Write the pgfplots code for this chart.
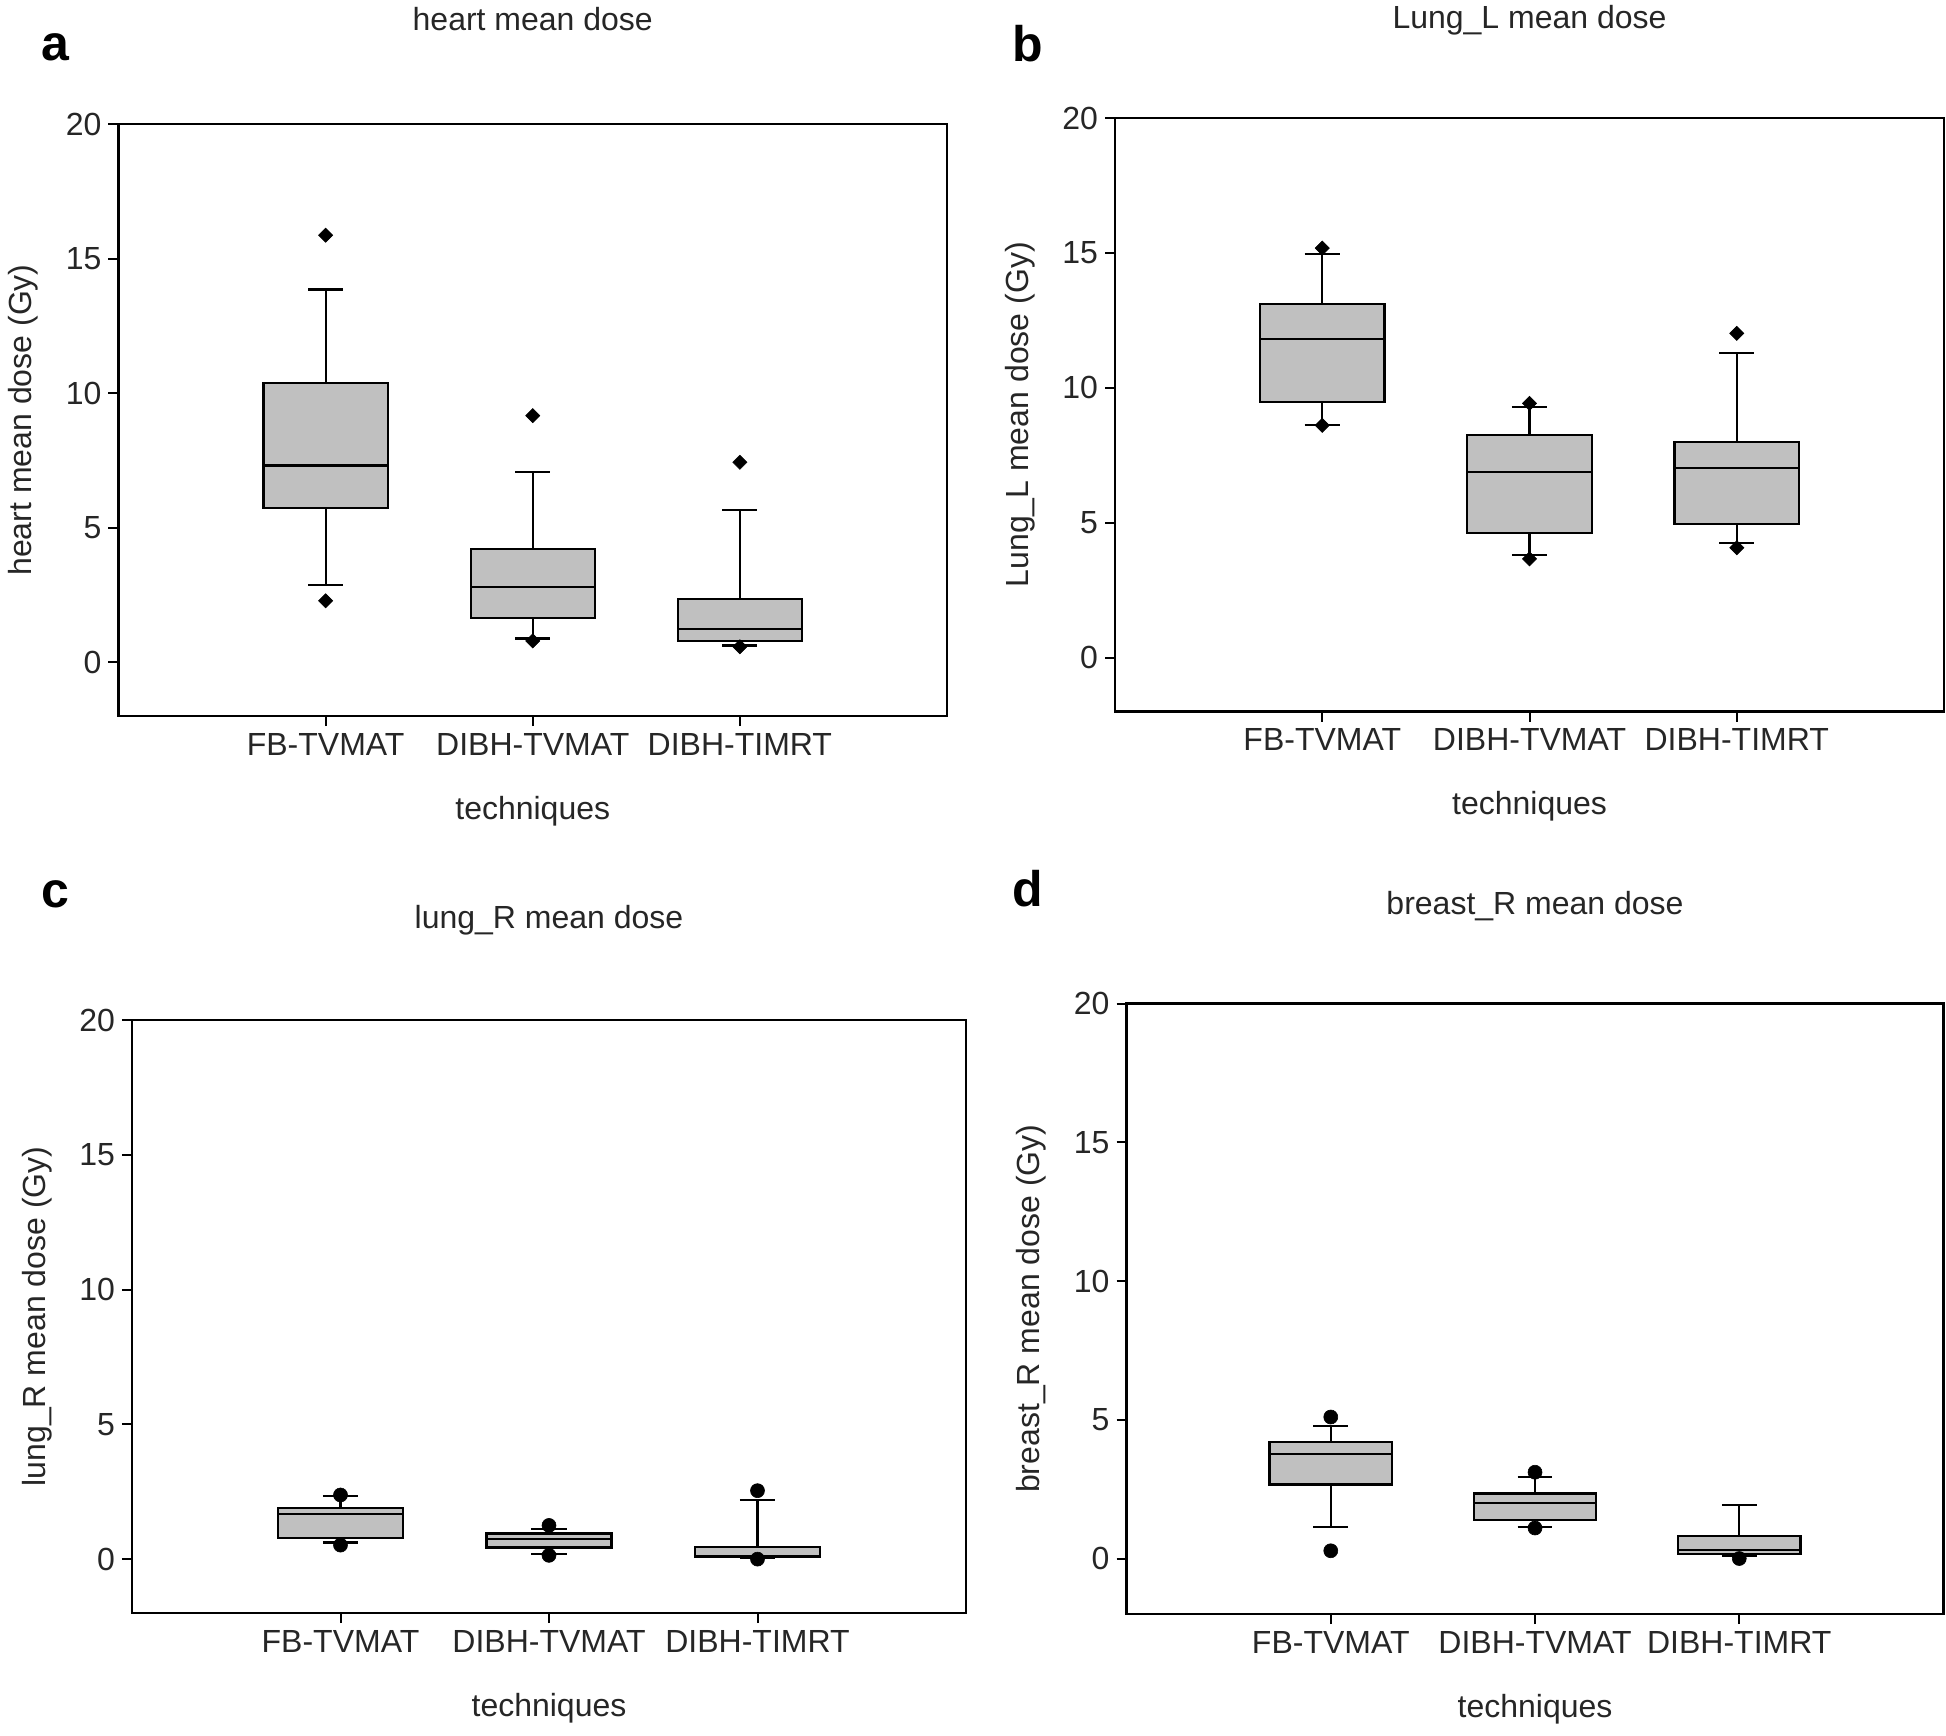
\documentclass[border=0pt]{standalone}
\usepackage{fontspec}
\setmainfont{Liberation Sans}
\usepackage{pgfplots}
\pgfplotsset{compat=1.18}
\usepgfplotslibrary{statistics}
\definecolor{boxgray}{HTML}{C0C0C0}
\definecolor{txt}{HTML}{262626}
\pgfplotsset{
  panel/.style={
    scale only axis,
    xmin=0, xmax=4, ymin=-2, ymax=20,
    xtick={1,2,3}, xticklabels={FB-TVMAT,DIBH-TVMAT,DIBH-TIMRT},
    ytick={0,5,10,15,20},
    tick pos=left,
    tick align=outside,
    major tick length=5pt,
    every tick/.style={black, line width=1pt},
    axis line style={line width=1.1pt},
    tick label style={font=\fontsize{16}{19}\selectfont, text=txt},
    /pgf/number format/assume math mode=true,
    every axis x label/.style={at={(axis description cs:0.5,0)}, anchor=base, yshift=-51.5pt, font=\fontsize{16}{19}\selectfont, text=txt},
    every axis y label/.style={at={(axis description cs:0,0.5)}, xshift=-47.5pt, rotate=90, anchor=center, font=\fontsize{16}{19}\selectfont, text=txt},
    every axis title/.style={at={(axis description cs:0.5,1)}, anchor=base, yshift=46pt, font=\fontsize{16}{19}\selectfont, text=txt},
    xlabel=techniques,
    boxplot/draw direction=y,
    boxplot/box extend=0.6,
    boxplot/whisker extend=0.17,
    boxplot/every box/.style={draw=black, fill=boxgray, line width=1.1pt},
    boxplot/every median/.style={draw=black, line width=1.1pt},
    boxplot/every whisker/.style={draw=black, line width=1.1pt},
    clip=false,
  },
  bx/.style={boxplot prepared={#1}, draw=black, line width=1.1pt, fill=boxgray, solid},
  dia/.style={mark=square*, mark size=2.5pt, mark options={rotate=45, fill=black, draw=black, line width=0.3pt}},
  dot/.style={mark=*, mark size=3.5pt, mark options={fill=black, draw=black, line width=0.3pt}},
}
\begin{document}
\begin{tikzpicture}
% ---------- panel a ----------
\begin{axis}[panel, at={(59.25pt,-358pt)}, anchor=south west, width=414.25pt, height=296pt,
  title={heart mean dose}, ylabel={heart mean dose (Gy)}, every axis title/.append style={yshift=1pt}]
\addplot[bx={draw position=1, lower whisker=2.87, lower quartile=5.74, median=7.31, upper quartile=10.37, upper whisker=13.85}, dia] coordinates {(1,15.87) (1,2.28)};
\addplot[bx={draw position=2, lower whisker=0.88, lower quartile=1.65, median=2.79, upper quartile=4.20, upper whisker=7.07}, dia] coordinates {(2,9.16) (2,0.79)};
\addplot[bx={draw position=3, lower whisker=0.62, lower quartile=0.79, median=1.22, upper quartile=2.36, upper whisker=5.66}, dia] coordinates {(3,7.43) (3,0.57)};
\end{axis}
% ---------- panel b ----------
\begin{axis}[panel, at={(557.5pt,-355.75pt)}, anchor=south west, width=414.5pt, height=296.75pt,
  title={Lung\_L mean dose}, ylabel={Lung\_L mean dose (Gy)}, every axis title/.append style={yshift=-1pt}]
\addplot[bx={draw position=1, lower whisker=8.61, lower quartile=9.46, median=11.80, upper quartile=13.12, upper whisker=14.95}, dia] coordinates {(1,15.18) (1,8.61)};
\addplot[bx={draw position=2, lower whisker=3.80, lower quartile=4.62, median=6.88, upper quartile=8.26, upper whisker=9.30}, dia] coordinates {(2,9.42) (2,3.66)};
\addplot[bx={draw position=3, lower whisker=4.25, lower quartile=4.94, median=7.04, upper quartile=8.00, upper whisker=11.29}, dia] coordinates {(3,12.02) (3,4.07)};
\end{axis}
% ---------- panel c ----------
\begin{axis}[panel, at={(66pt,-806.5pt)}, anchor=south west, width=417pt, height=296.5pt,
  title={lung\_R mean dose}, ylabel={lung\_R mean dose (Gy)}]
\addplot[bx={draw position=1, lower whisker=0.62, lower quartile=0.77, median=1.66, upper quartile=1.90, upper whisker=2.35}, dot] coordinates {(1,2.38) (1,0.52)};
\addplot[bx={draw position=2, lower whisker=0.19, lower quartile=0.43, median=0.76, upper quartile=0.95, upper whisker=1.12}, dot] coordinates {(2,1.25) (2,0.14)};
\addplot[bx={draw position=3, lower whisker=0.05, lower quartile=0.07, median=0.10, upper quartile=0.45, upper whisker=2.20}, dot] coordinates {(3,2.54) (3,0.0)};
\end{axis}
% ---------- panel d ----------
\begin{axis}[panel, at={(563.25pt,-807pt)}, anchor=south west, width=408.5pt, height=305.25pt,
  title={breast\_R mean dose}, ylabel={breast\_R mean dose (Gy)}, every axis title/.append style={yshift=-1.25pt}]
\addplot[bx={draw position=1, lower whisker=1.15, lower quartile=2.67, median=3.78, upper quartile=4.20, upper whisker=4.78}, dot] coordinates {(1,5.10) (1,0.28)};
\addplot[bx={draw position=2, lower whisker=1.15, lower quartile=1.40, median=2.00, upper quartile=2.34, upper whisker=2.93}, dot] coordinates {(2,3.11) (2,1.10)};
\addplot[bx={draw position=3, lower whisker=0.10, lower quartile=0.15, median=0.30, upper quartile=0.82, upper whisker=1.92}, dot] coordinates {(3,0.0)};
\end{axis}
% ---------- panel letters ----------
\node[anchor=base, font=\fontsize{25}{30}\selectfont\bfseries] at (27.5pt,-30pt) {a};
\node[anchor=base, font=\fontsize{25}{30}\selectfont\bfseries] at (514pt,-30.7pt) {b};
\node[anchor=base, font=\fontsize{25}{30}\selectfont\bfseries] at (27.5pt,-453.8pt) {c};
\node[anchor=base, font=\fontsize{25}{30}\selectfont\bfseries] at (514pt,-453pt) {d};
\pgfresetboundingbox
\useasboundingbox (0,0) rectangle (973pt,-867.5pt);
\end{tikzpicture}
\end{document}
